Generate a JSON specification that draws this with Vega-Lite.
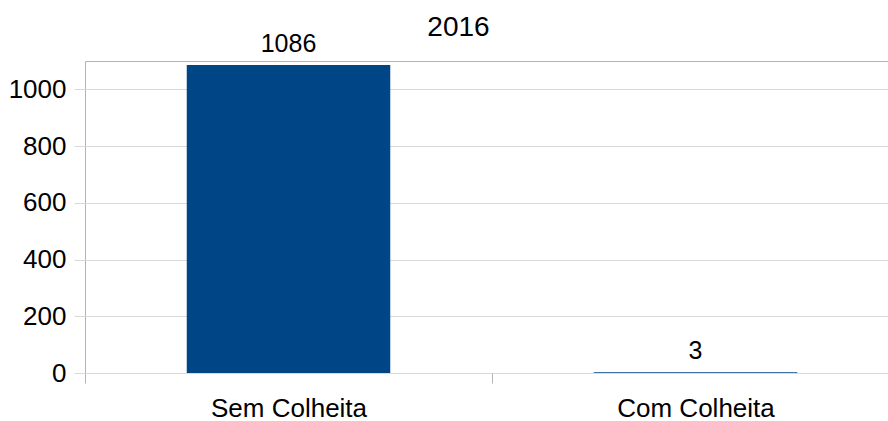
{
  "$schema": "https://vega.github.io/schema/vega-lite/v6.json",
  "autosize": {"type": "none"},
  "padding": {"left": 85, "top": 61, "right": 0, "bottom": 48},
  "width": 805,
  "height": 312,
  "background": "white",
  "config": {
    "view": {"stroke": "#b3b3b3", "strokeWidth": 1},
    "font": "Liberation Sans"
  },
  "title": {
    "text": "2016",
    "font": "Liberation Sans",
    "fontSize": 28,
    "fontWeight": "normal",
    "color": "#000000",
    "anchor": "middle",
    "offset": 22,
    "dx": -29,
    "dy": 32
  },
  "data": {
    "values": [
      {"cat": "Sem Colheita", "value": 1086},
      {"cat": "Com Colheita", "value": 3}
    ]
  },
  "encoding": {
    "x": {
      "field": "cat",
      "type": "nominal",
      "sort": null,
      "scale": {"range": [0, 814], "paddingInner": 0, "paddingOuter": 0},
      "axis": {
        "title": null,
        "labelAngle": 0,
        "tickBand": "extent",
        "ticks": true,
        "tickSize": 10,
        "tickColor": "#b3b3b3",
        "domain": false,
        "grid": false,
        "labelFont": "Liberation Sans",
        "labelFontSize": 26,
        "labelColor": "#000000",
        "labelBaseline": "alphabetic",
        "labelPadding": 33
      }
    },
    "y": {
      "field": "value",
      "type": "quantitative",
      "scale": {"domain": [0, 1100], "nice": false, "zero": true},
      "axis": {
        "title": null,
        "values": [0, 200, 400, 600, 800, 1000],
        "format": "d",
        "tickSize": 11,
        "tickColor": "#d9d9d9",
        "gridColor": "#d9d9d9",
        "domain": false,
        "labelFont": "Liberation Sans",
        "labelFontSize": 26,
        "labelColor": "#000000",
        "labelPadding": 8
      }
    }
  },
  "layer": [
    {
      "mark": {"type": "bar", "width": {"band": 0.5}, "color": "#004586"}
    },
    {
      "mark": {
        "type": "text",
        "dy": -13,
        "baseline": "alphabetic",
        "font": "Liberation Sans",
        "fontSize": 25,
        "color": "#000000"
      },
      "encoding": {"text": {"field": "value", "type": "quantitative"}}
    }
  ]
}
